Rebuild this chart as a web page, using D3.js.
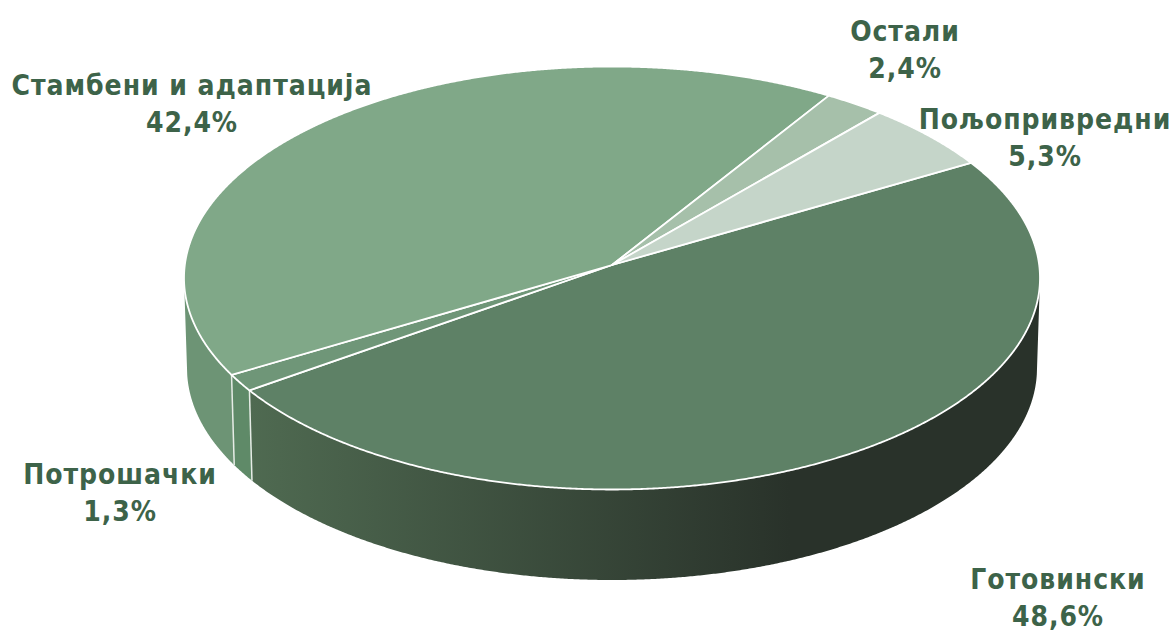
<!DOCTYPE html>
<html>
<head>
<meta charset="utf-8">
<script src="https://cdn.jsdelivr.net/npm/d3@7"></script>
<style>
body { margin: 0; background: #fff; }
text { font-family: "DejaVu Sans Condensed", "DejaVu Sans", sans-serif; font-stretch: condensed; font-weight: 700; font-size: 28px; fill: #3d6349; text-anchor: middle; letter-spacing: 0.95px; }
</style>
</head>
<body>
<svg id="chart" width="1175" height="630"></svg>
<script>
// slices, in drawing order going clockwise from the right hand side
var categories = ["Готовински", "Потрошачки", "Стамбени и адаптација", "Остали", "Пољопривредни"];
var shares = [48.6, 1.3, 42.4, 2.4, 5.3];
var shareLabels = ["48,6%", "1,3%", "42,4%", "2,4%", "5,3%"];
var topColors = ["#5e8166", "#6f9678", "#80a888", "#a6c0aa", "#c5d5c9"];
var wallColors = ["url(#wallGrad)", "#5f8a68", "#6d9475", "#a6c0aa", "#c5d5c9"];
var labelX = [1058, 120, 192, 905, 1045];
var labelY = [589, 484, 95, 41, 129];

var svg = d3.select("#chart");

//Top ellipse and bottom ellipse of the disc
var cx = 612, cy = 278, rx = 428, ry = 211.5;
var botRx = 425, botCy = 368, botRy = 212;
var ecc = -0.0615; // perspective: apex sits a bit above the ellipse centre
var lineGap = 37;

var pie = d3.pie().sort(null)
	.startAngle(60 * Math.PI / 180)
	.endAngle(420 * Math.PI / 180);
var slices = pie(shares);

//unit ellipse coords for a pie angle
function rim(a) {
	var x = Math.sin(a), y = -Math.cos(a), den = 1 + ecc * y;
	return { u: x * Math.sqrt(1 - ecc * ecc) / den, v: (y + ecc) / den };
}
function topPt(a) { var p = rim(a); return [cx + rx * p.u, cy + ry * p.v]; }
function botPt(a) { var p = rim(a); return [cx + botRx * p.u, botCy + botRy * p.v]; }
var apex = [cx, cy + ry * ecc];

var line = d3.line();

function sample(s) {
	var out = [], step = Math.PI / 720;
	for (var a = s.startAngle; a < s.endAngle; a += step) out.push(a);
	out.push(s.endAngle);
	return out;
}

var defs = svg.append("defs");
var grad = defs.append("linearGradient").attr("id", "wallGrad")
	.attr("gradientUnits", "userSpaceOnUse")
	.attr("x1", 250).attr("x2", 790).attr("y1", 0).attr("y2", 0);
grad.append("stop").attr("offset", 0).attr("stop-color", "#4f6a51");
grad.append("stop").attr("offset", 1).attr("stop-color", "#29322a");

//Walls
svg.append("g").selectAll("path")
	.data(slices)
	.join("path")
	.attr("d", function(d) {
		var vis = sample(d).filter(function(a) { return rim(a).v >= 0.03; });
		if (!vis.length) return null;
		return line(vis.map(topPt).concat(vis.slice().reverse().map(botPt))) + "Z";
	})
	.attr("fill", function(d, i) { return wallColors[i]; });

//White seams on the wall
svg.append("g").selectAll("line")
	.data(slices.filter(function(d) { return rim(d.startAngle).v > 0.03; }))
	.join("line")
	.attr("x1", function(d) { return topPt(d.startAngle)[0]; })
	.attr("y1", function(d) { return topPt(d.startAngle)[1]; })
	.attr("x2", function(d) { return botPt(d.startAngle)[0]; })
	.attr("y2", function(d) { return botPt(d.startAngle)[1]; })
	.attr("stroke", "#e6ece6").attr("stroke-width", 1.5);

//Top face
svg.append("g").selectAll("path")
	.data(slices)
	.join("path")
	.attr("d", function(d) { return line([apex].concat(sample(d).map(topPt))) + "Z"; })
	.attr("fill", function(d, i) { return topColors[i]; })
	.attr("stroke", "#fff").attr("stroke-width", 1.8).attr("stroke-linejoin", "round");

//Labels
var labels = svg.append("g").selectAll("text")
	.data(categories)
	.join("text")
	.attr("x", function(d, i) { return labelX[i]; })
	.attr("y", function(d, i) { return labelY[i]; });
labels.append("tspan").text(function(d) { return d; });
labels.append("tspan")
	.attr("x", function(d, i) { return labelX[i]; })
	.attr("dy", lineGap)
	.text(function(d, i) { return shareLabels[i]; });
</script>
</body>
</html>
